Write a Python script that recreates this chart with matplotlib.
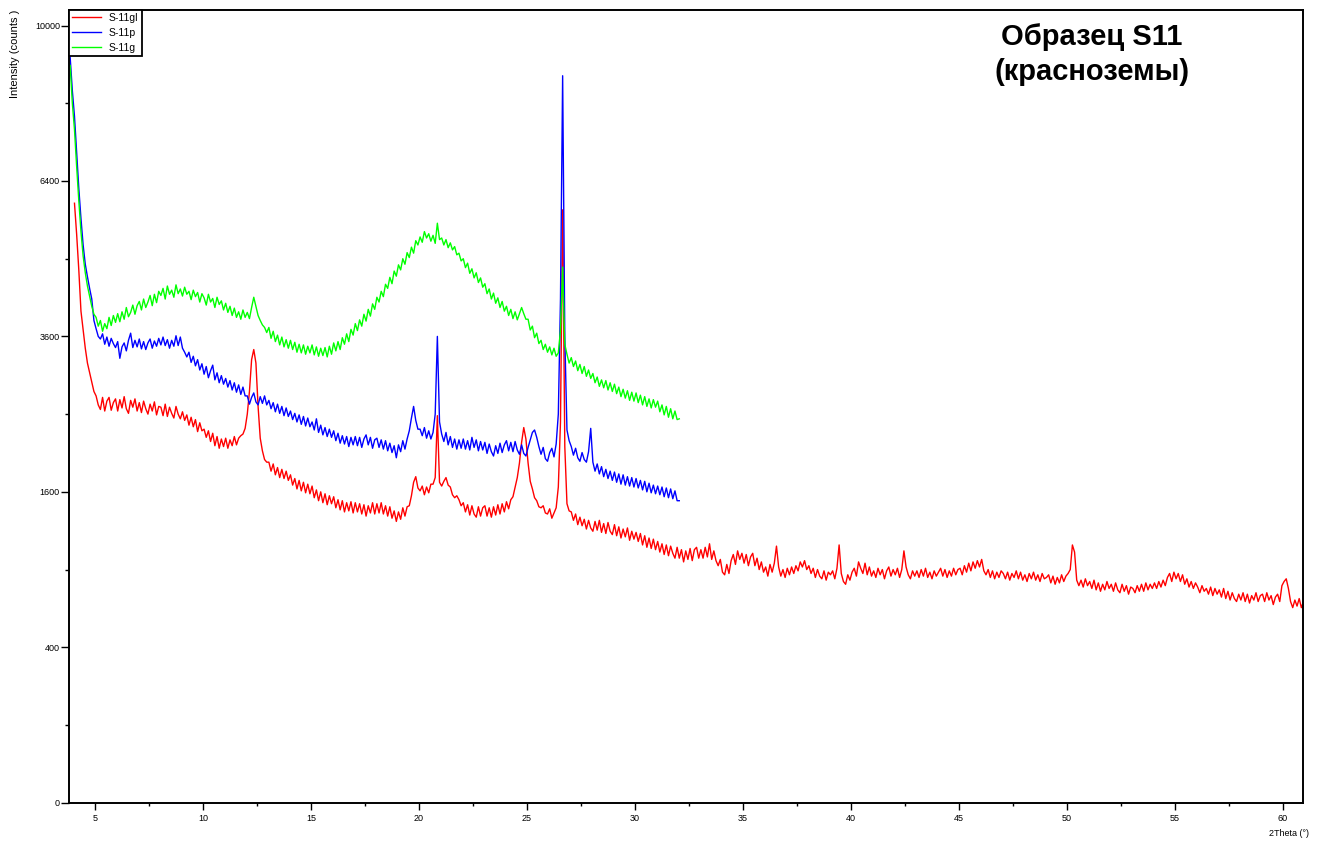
import numpy as np
import matplotlib
matplotlib.use("Agg")
import matplotlib.pyplot as plt

plt.rcParams['font.family'] = ['Liberation Sans', 'DejaVu Sans']

# Scan step (degrees 2Theta) and first angle of each pattern
STEP = 0.1
START_GL = 4.05
START_P = 3.85
START_G = 3.85

series_labels = ['S-11gl', 'S-11p', 'S-11g']
series_colors = ['#ff0000', '#0000ff', '#00ff00']

# S-11gl: 4.05 ... 60.95 deg, one row per degree
counts_gl = [
    5950, 5350, 4700, 4000, 3700, 3420, 3200, 3060, 2930, 2800,
    2740, 2620, 2560, 2720, 2540, 2670, 2720, 2550, 2650, 2700,
    2540, 2690, 2580, 2730, 2570, 2510, 2680, 2590, 2700, 2540,
    2650, 2520, 2670, 2570, 2500, 2630, 2540, 2660, 2490, 2600,
    2590, 2480, 2630, 2470, 2590, 2510, 2450, 2600, 2500, 2440,
    2530, 2420, 2490, 2360, 2460, 2340, 2430, 2280, 2390, 2290,
    2310, 2210, 2290, 2160, 2260, 2110, 2220, 2080, 2190, 2100,
    2200, 2080, 2180, 2110, 2220, 2120, 2200, 2230, 2250, 2320,
    2500, 2800, 3250, 3400, 3200, 2600, 2200, 2050, 1950, 1920,
    1920, 1820, 1900, 1780, 1860, 1750, 1840, 1740, 1820, 1720,
    1780, 1670, 1740, 1630, 1720, 1610, 1700, 1590, 1680, 1580,
    1660, 1540, 1620, 1510, 1600, 1490, 1580, 1470, 1560, 1480,
    1550, 1440, 1520, 1420, 1510, 1400, 1490, 1410, 1500, 1390,
    1490, 1400, 1480, 1380, 1470, 1360, 1460, 1390, 1490, 1380,
    1480, 1390, 1490, 1380, 1460, 1360, 1450, 1340, 1410, 1310,
    1400, 1330, 1440, 1360, 1450, 1460, 1560, 1700, 1760, 1640,
    1610, 1660, 1570, 1650, 1590, 1680, 1680, 1750, 2480, 1700,
    1660, 1710, 1750, 1670, 1650, 1570, 1540, 1560, 1520, 1460,
    1490, 1400, 1470, 1370, 1460, 1380, 1350, 1450, 1360, 1440,
    1460, 1360, 1440, 1350, 1450, 1370, 1470, 1380, 1480, 1400,
    1500, 1430, 1520, 1550, 1650, 1750, 1910, 2150, 2330, 2190,
    1910, 1710, 1630, 1540, 1510, 1450, 1440, 1460, 1390, 1380,
    1430, 1340, 1390, 1440, 1650, 2400, 5820, 2100, 1480, 1410,
    1400, 1320, 1380, 1280, 1350, 1270, 1330, 1240, 1320, 1250,
    1220, 1310, 1230, 1320, 1210, 1290, 1200, 1300, 1220, 1190,
    1280, 1180, 1260, 1160, 1240, 1170, 1250, 1140, 1220, 1150,
    1210, 1130, 1200, 1100, 1180, 1080, 1160, 1070, 1150, 1060,
    1130, 1040, 1110, 1020, 1100, 1010, 1090, 1030, 990, 1080,
    990, 1060, 960, 1050, 980, 1070, 970, 1060, 1080, 990,
    1060, 990, 1080, 1000, 1110, 980, 1050, 970, 930, 980,
    880, 860, 940, 870, 970, 1020, 940, 1050, 980, 1030,
    950, 1020, 930, 1000, 1030, 930, 990, 900, 960, 880,
    920, 850, 940, 880, 950, 1090, 920, 850, 900, 840,
    910, 860, 920, 870, 930, 890, 960, 920, 970, 900,
    930, 870, 910, 840, 900, 850, 830, 890, 820, 880,
    860, 890, 830, 910, 1100, 870, 810, 790, 860, 820,
    880, 910, 850, 960, 910, 870, 950, 860, 920, 850,
    890, 840, 910, 860, 900, 830, 890, 920, 850, 900,
    860, 910, 840, 900, 1050, 920, 860, 830, 890, 850,
    890, 840, 900, 850, 910, 840, 880, 830, 890, 850,
    880, 910, 850, 900, 840, 890, 850, 910, 860, 900,
    910, 860, 930, 880, 950, 890, 960, 910, 970, 920,
    980, 890, 860, 900, 840, 890, 830, 880, 840, 890,
    870, 830, 880, 820, 870, 840, 890, 830, 880, 820,
    860, 810, 870, 830, 880, 820, 860, 810, 870, 830,
    840, 860, 800, 850, 790, 840, 800, 860, 810, 850,
    870, 900, 1100, 1040, 820, 780, 820, 770, 830, 780,
    810, 760, 820, 750, 800, 740, 790, 750, 810, 760,
    790, 740, 800, 750, 730, 790, 740, 780, 720, 770,
    760, 730, 780, 740, 790, 740, 800, 750, 790, 760,
    800, 760, 810, 770, 820, 780, 840, 870, 810, 880,
    830, 870, 810, 860, 790, 830, 770, 810, 760, 800,
    770, 730, 780, 740, 760, 720, 770, 710, 760, 720,
    750, 700, 760, 690, 740, 680, 730, 690, 670, 720,
    680, 730, 670, 720, 660, 710, 680, 730, 670, 710,
    720, 670, 730, 680, 710, 650, 700, 720, 670, 780,
    810, 830, 760, 670, 630, 680, 640, 690, 630, 670,
]

# S-11p: 3.85 ... 32.05 deg
counts_p = [
    9200, 8400,
    7800, 7000, 6250, 5650, 5150, 4800, 4580, 4380, 4200, 3850,
    3720, 3600, 3560, 3640, 3480, 3590, 3450, 3570, 3490, 3430,
    3520, 3270, 3440, 3500, 3380, 3540, 3650, 3430, 3540, 3440,
    3560, 3410, 3520, 3400, 3500, 3560, 3420, 3530, 3450, 3570,
    3470, 3590, 3460, 3550, 3420, 3540, 3450, 3610, 3460, 3590,
    3420, 3360, 3290, 3360, 3210, 3300, 3160, 3250, 3100, 3190,
    3040, 3150, 2990, 3090, 3170, 2960, 3060, 2920, 3020, 2900,
    2980, 2860, 2950, 2820, 2920, 2790, 2890, 2760, 2860, 2740,
    2740, 2630, 2720, 2780, 2660, 2620, 2730, 2640, 2740, 2620,
    2680, 2570, 2650, 2530, 2630, 2510, 2600, 2480, 2580, 2470,
    2540, 2430, 2510, 2400, 2490, 2370, 2470, 2350, 2450, 2340,
    2400, 2300, 2440, 2270, 2360, 2240, 2330, 2220, 2310, 2210,
    2290, 2170, 2260, 2140, 2230, 2130, 2220, 2100, 2210, 2120,
    2220, 2110, 2210, 2090, 2190, 2240, 2120, 2210, 2080, 2180,
    2200, 2090, 2180, 2070, 2170, 2050, 2140, 2030, 2110, 1970,
    2120, 2040, 2170, 2070, 2190, 2290, 2450, 2600, 2420, 2310,
    2310, 2230, 2330, 2200, 2290, 2190, 2270, 2500, 3600, 2400,
    2250, 2160, 2270, 2120, 2220, 2090, 2190, 2070, 2180, 2080,
    2190, 2070, 2170, 2060, 2210, 2090, 2180, 2050, 2160, 2060,
    2150, 2020, 2130, 2040, 1990, 2110, 2020, 2140, 2030, 2120,
    2170, 2050, 2150, 2040, 2160, 2060, 2010, 2120, 2020, 1990,
    2090, 2180, 2270, 2300, 2210, 2100, 2010, 2090, 1960, 1930,
    2030, 2080, 1980, 2130, 2500, 4200, 8750, 3600, 2300, 2170,
    2100, 2000, 2080, 1970, 1930, 2030, 1950, 1920, 2040, 2320,
    1920, 1820, 1900, 1790, 1870, 1760, 1840, 1740, 1820, 1720,
    1810, 1700, 1790, 1680, 1780, 1670, 1760, 1660, 1750, 1650,
    1740, 1640, 1720, 1620, 1710, 1600, 1690, 1590, 1670, 1580,
    1660, 1570, 1650, 1550, 1640, 1540, 1630, 1530, 1610, 1510,
    1510,
]

# S-11g: 3.85 ... 32.05 deg
counts_g = [
    9000, 8100,
    7500, 6700, 6000, 5400, 4950, 4650, 4420, 4250, 4080, 3950,
    3900, 3760, 3850, 3680, 3800, 3720, 3900, 3770, 3930, 3820,
    3960, 3830, 3990, 3870, 4060, 3910, 3980, 4100, 3950, 4090,
    4160, 4020, 4200, 4060, 4150, 4260, 4090, 4280, 4140, 4330,
    4260, 4380, 4200, 4420, 4280, 4350, 4230, 4440, 4290, 4370,
    4250, 4400, 4280, 4330, 4190, 4350, 4240, 4310, 4150, 4290,
    4220, 4100, 4280, 4150, 4210, 4060, 4230, 4110, 4170, 4020,
    4130, 3980, 4080, 3930, 4050, 3900, 3990, 3870, 4020, 3900,
    3980, 3880, 4060, 4230, 4080, 3930, 3850, 3780, 3740, 3660,
    3740, 3570, 3680, 3520, 3620, 3470, 3590, 3440, 3550, 3420,
    3540, 3400, 3510, 3360, 3480, 3350, 3470, 3330, 3450, 3350,
    3470, 3320, 3440, 3300, 3420, 3310, 3430, 3290, 3450, 3330,
    3500, 3380, 3520, 3400, 3580, 3480, 3640, 3520, 3710, 3620,
    3800, 3690, 3860, 3760, 3950, 3840, 4030, 3920, 4120, 4030,
    4230, 4150, 4330, 4240, 4450, 4380, 4570, 4460, 4680, 4590,
    4790, 4700, 4900, 4800, 5010, 4920, 5110, 5000, 5230, 5150,
    5300, 5200, 5400, 5280, 5360, 5220, 5330, 5180, 5560, 5250,
    5280, 5150, 5250, 5100, 5190, 5060, 5120, 4970, 5000, 4860,
    4900, 4740, 4820, 4640, 4720, 4560, 4650, 4480, 4560, 4400,
    4460, 4290, 4370, 4200, 4300, 4130, 4220, 4060, 4160, 4000,
    4080, 3930, 4030, 3880, 3990, 3860, 3960, 4060, 3960, 3870,
    3870, 3700, 3760, 3580, 3650, 3490, 3540, 3400, 3480, 3360,
    3440, 3320, 3420, 3300, 3350, 3700, 4750, 3480, 3330, 3200,
    3280, 3150, 3230, 3090, 3180, 3050, 3150, 3010, 3100, 2980,
    3050, 2920, 3000, 2870, 2960, 2850, 2950, 2820, 2920, 2800,
    2900, 2770, 2860, 2730, 2830, 2710, 2810, 2680, 2790, 2670,
    2780, 2650, 2750, 2620, 2730, 2600, 2700, 2580, 2690, 2590,
    2670, 2530, 2620, 2490, 2600, 2460, 2570, 2440, 2540, 2430,
    2440,
]

y_major = [0, 400, 1600, 3600, 6400, 10000]
y_minor = [100, 900, 2500, 4900, 8100]
x_major = [5, 10, 15, 20, 25, 30, 35, 40, 45, 50, 55, 60]
x_minor = [7.5, 12.5, 17.5, 22.5, 27.5, 32.5, 37.5, 42.5, 47.5, 52.5, 57.5]

angles_gl = START_GL + STEP * np.arange(len(counts_gl))
angles_p = START_P + STEP * np.arange(len(counts_p))
angles_g = START_G + STEP * np.arange(len(counts_g))

W, H = 1321, 841
fig = plt.figure(figsize=(W / 100, H / 100), dpi=100)
ax = fig.add_axes([69.3 / W, 1 - 802.7 / H, (1303.3 - 69.3) / W, (802.7 - 10) / H])

for xs, ys, lab, col in zip((angles_gl, angles_p, angles_g),
                            (counts_gl, counts_p, counts_g),
                            series_labels, series_colors):
    ax.plot(xs, ys, color=col, lw=1.0, label=lab)

# square-root intensity axis
ax.set_yscale('function', functions=(lambda v: np.sqrt(np.clip(v, 0, None)),
                                     lambda v: np.square(v)))
ax.set_xlim(3.81, 60.94)
ax.set_ylim(0, 10404)

ax.set_yticks(y_major)
ax.set_yticks(y_minor, minor=True)
ax.set_yticklabels([str(v) for v in y_major])
ax.set_xticks(x_major)
ax.set_xticks(x_minor, minor=True)
ax.set_xticklabels([str(v) for v in x_major])

for s in ax.spines.values():
    s.set_linewidth(1.4)
ax.tick_params(axis='both', which='both', direction='out', width=1.0,
               labelsize=6.5, colors='black')
ax.tick_params(axis='x', which='major', length=5.0, pad=3)
ax.tick_params(axis='x', which='minor', length=2.5)
ax.tick_params(axis='y', which='major', length=5.8, pad=1)
ax.tick_params(axis='y', which='minor', length=3.0)

leg = ax.legend(loc='upper left', bbox_to_anchor=(0, 1), borderaxespad=0,
                fontsize=7.5, handlelength=2.7, handletextpad=0.8,
                labelspacing=0.45, fancybox=False, framealpha=1,
                borderpad=0.3)
leg.get_frame().set_edgecolor('black')
leg.get_frame().set_linewidth(1.3)

fig.text(15 / W, 1 - 10 / H, 'Intensity (counts )', rotation=90,
         ha='center', va='top', fontsize=8)
fig.text(1309 / W, 1 - 833 / H, '2Theta (°)', ha='right', va='center',
         fontsize=6.5)
fig.text(1092 / W, 1 - 23 / H, 'Образец S11\n(красноземы)', ha='center',
         va='top', fontsize=21, fontweight='bold', linespacing=1.3)

fig.savefig('out.png', dpi=100)
